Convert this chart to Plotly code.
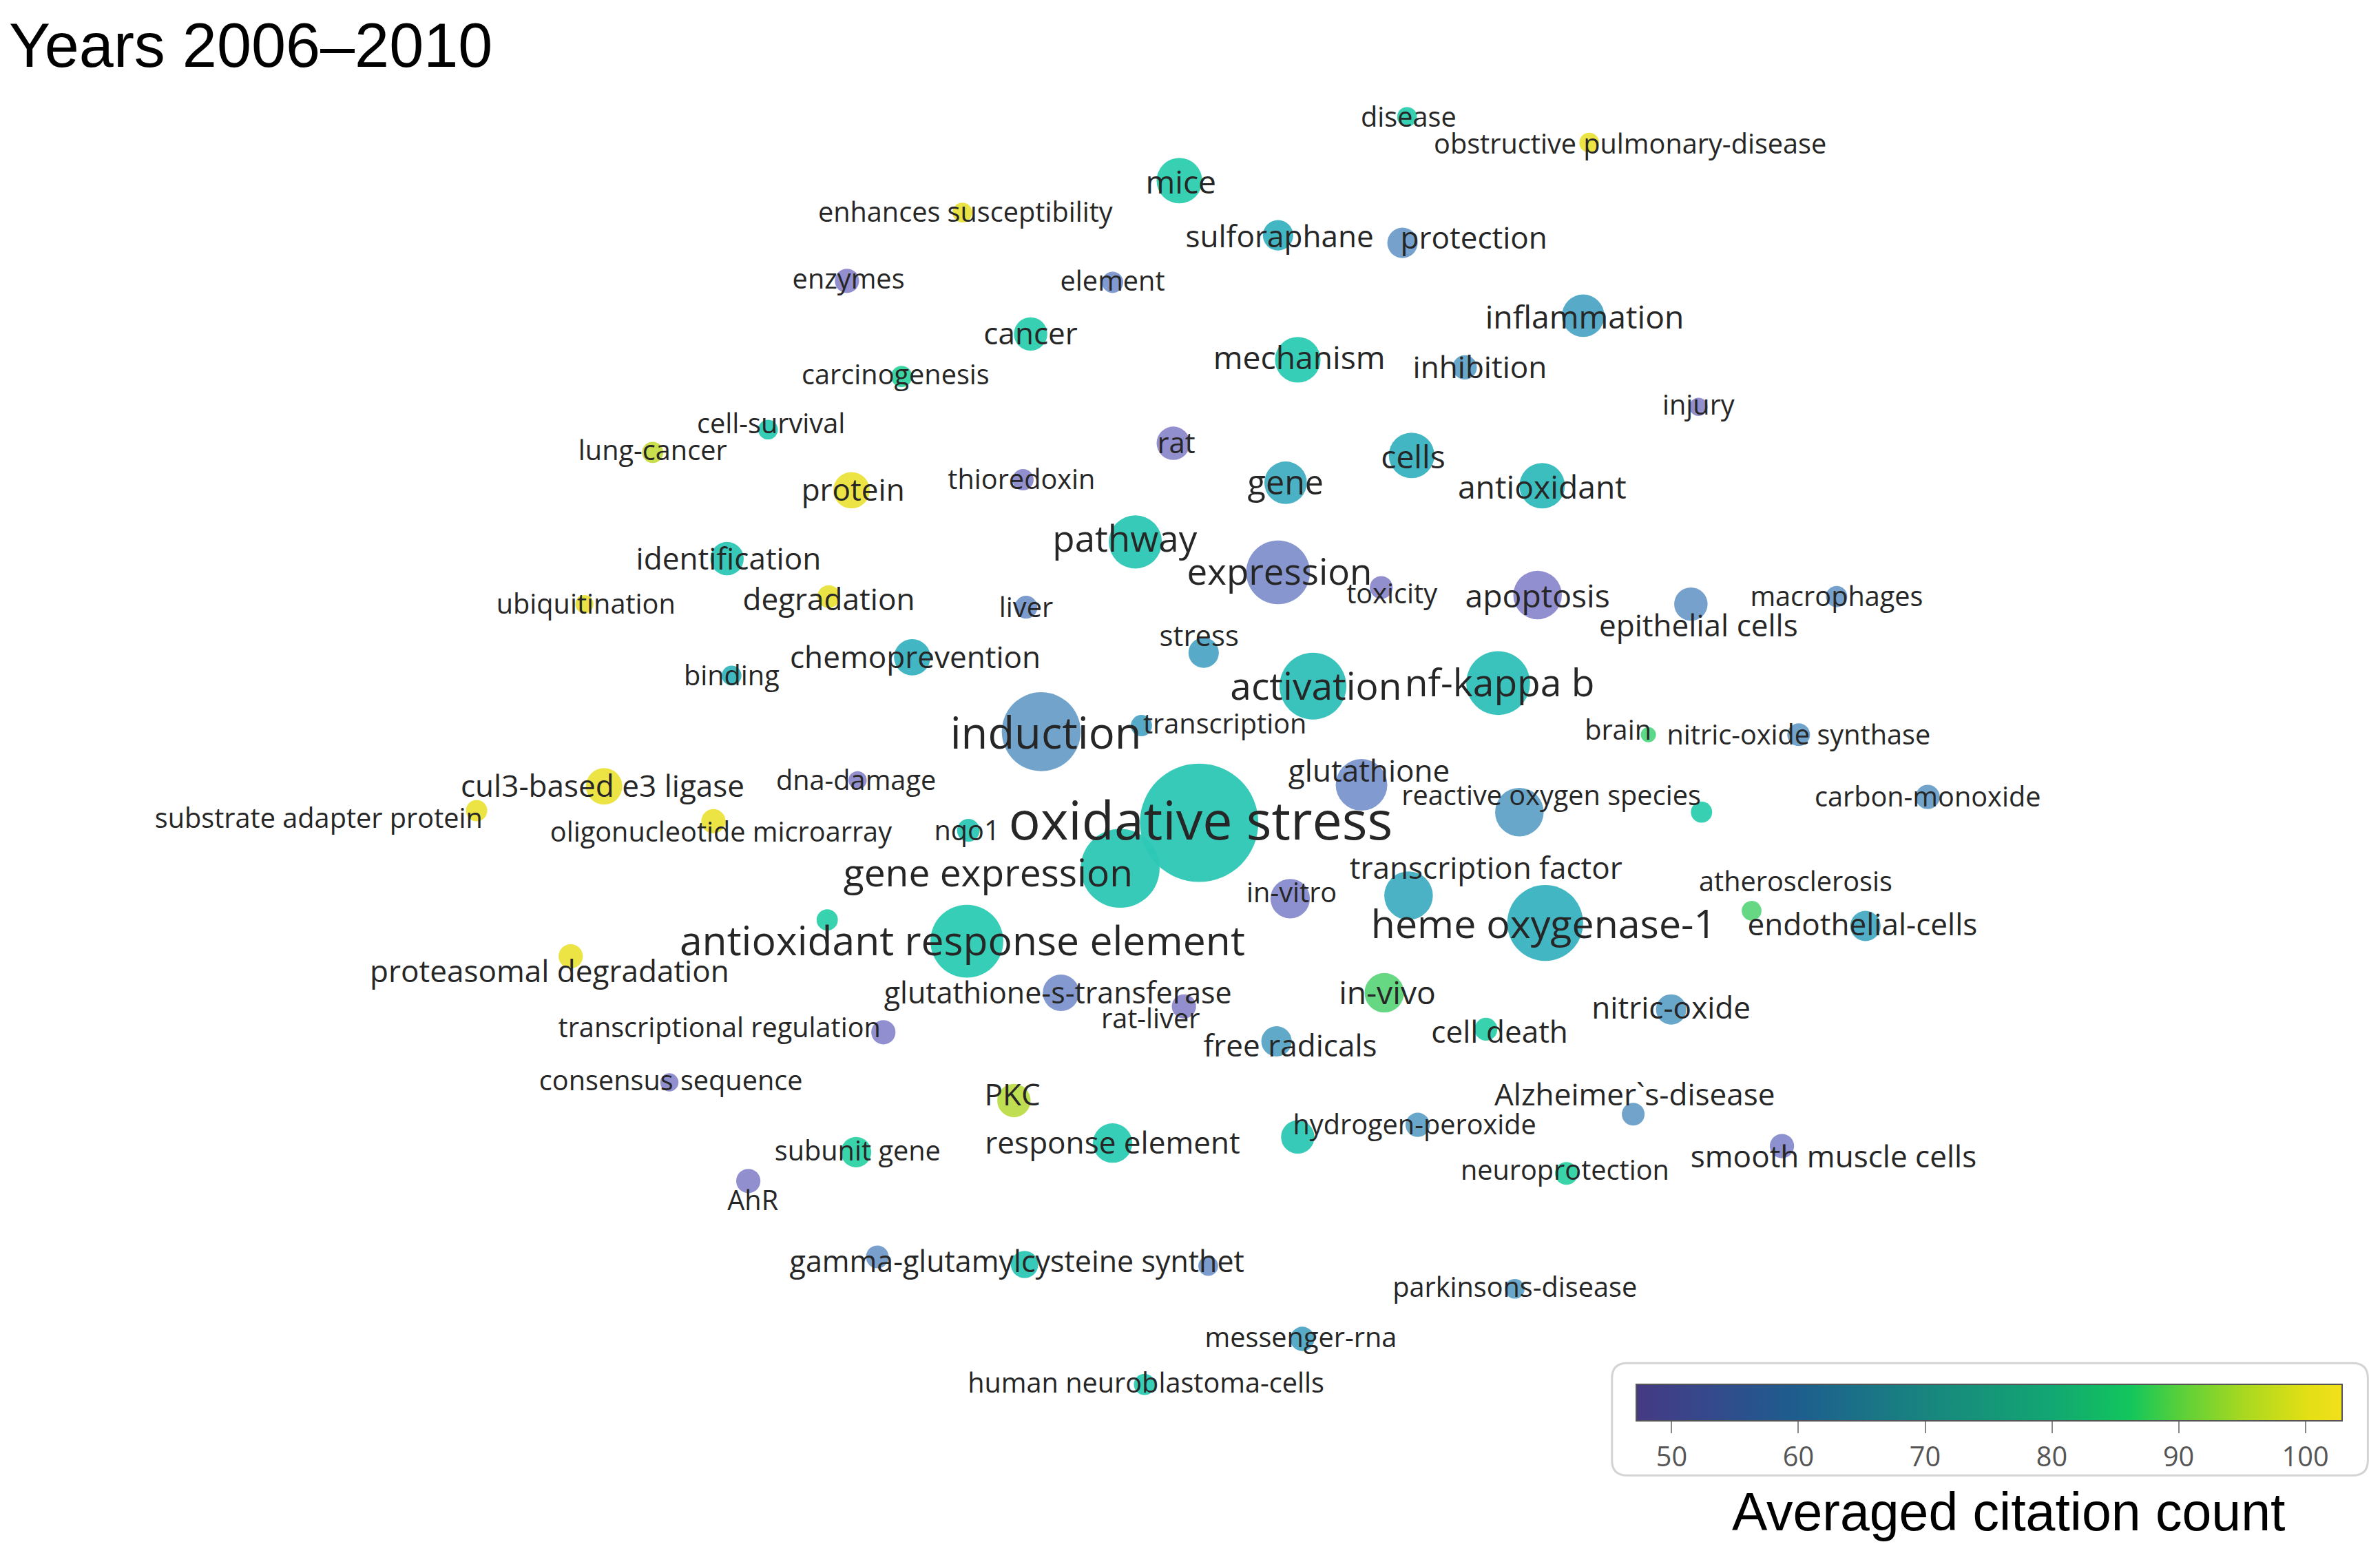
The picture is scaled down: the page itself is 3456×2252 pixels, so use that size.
import plotly.graph_objects as go

# overlay map, keywords 2006-2010 (map units = pixels of the 1568x1022 layout)
keywords = [
    "disease", "obstructive pulmonary-disease", "mice", "enhances susceptibility",
    "sulforaphane", "protection", "enzymes", "element", "inflammation", "cancer",
    "mechanism", "inhibition", "carcinogenesis", "injury", "cell-survival",
    "lung-cancer", "rat", "cells", "gene", "antioxidant", "protein", "thioredoxin",
    "pathway", "identification", "expression", "toxicity", "apoptosis",
    "ubiquitination", "degradation", "liver", "epithelial cells", "macrophages",
    "stress", "chemoprevention", "binding", "activation", "nf-kappa b", "induction",
    "transcription", "brain", "nitric-oxide synthase", "glutathione",
    "reactive oxygen species", "", "carbon-monoxide", "cul3-based e3 ligase",
    "dna-damage", "substrate adapter protein", "oligonucleotide microarray", "nqo1",
    "gene expression", "oxidative stress", "in-vitro", "transcription factor",
    "atherosclerosis", "endothelial-cells", "heme oxygenase-1",
    "antioxidant response element", "", "proteasomal degradation",
    "glutathione-s-transferase", "rat-liver", "in-vivo", "nitric-oxide", "cell death",
    "free radicals", "transcriptional regulation", "consensus sequence", "PKC",
    "Alzheimer`s-disease", "hydrogen-peroxide", "", "response element", "subunit gene",
    "smooth muscle cells", "neuroprotection", "AhR", "gamma-glutamylcysteine synthet",
    "", "", "parkinsons-disease", "messenger-rna", "human neuroblastoma-cells",
]
node_x = [
    927, 1047, 777, 634, 842, 924, 558, 733, 1043, 679,
    855, 965, 594, 1119, 506, 430, 773, 930, 847, 1016, 561, 674,
    748, 479, 842, 910, 1013, 385, 546, 676, 1114, 1210,
    793, 601, 482, 865, 987, 686, 752, 1086, 1185, 897,
    1001, 1121, 1270, 398, 565, 314, 470, 638,
    738, 790, 850, 928, 1154, 1229, 1018,
    637, 545, 376, 699, 780, 912, 1101, 979,
    841, 582, 441, 668, 1076, 855, 934, 733, 564,
    1174, 1032, 493, 675, 578, 796, 998, 858, 754,
]
node_y = [
    77, 94, 119, 140, 155, 160, 185, 186, 208, 220,
    237, 242, 248, 268, 283, 298, 292, 300, 318, 320, 323, 316,
    357, 368, 377, 387, 392, 398, 393, 400, 398, 393,
    430, 433, 445, 452, 450, 482, 478, 484, 484, 517,
    535, 535, 525, 518, 514, 534, 541, 547,
    572, 542, 592, 590, 600, 610, 608,
    620, 606, 630, 654, 663, 654, 665, 678,
    686, 680, 713, 725, 734, 749, 741, 753, 759,
    755, 773, 778, 833, 828, 834, 849, 882, 912,
]
node_weight = [
    13, 13, 30, 13, 20, 20, 16, 14, 28, 22,
    30, 16, 14, 12, 13, 14, 22, 30, 28, 30, 24, 14,
    35, 22, 42, 15, 32, 12, 15, 15, 22, 14,
    20, 24, 13, 44, 42, 52, 14, 10, 15, 34,
    32, 14, 16, 24, 12, 14, 16, 15,
    52, 78, 26, 32, 13, 20, 50,
    48, 14, 16, 24, 16, 26, 20, 15,
    20, 16, 12, 22, 15, 22, 16, 26, 20,
    16, 15, 16, 18, 15, 13, 13, 16, 14,
]
avg_citations = [
    74, 100, 74, 99, 67, 60, 50, 57, 64, 74,
    73, 62, 77, 51, 73, 93, 51, 67, 66, 69, 100, 51,
    72, 72, 55, 51, 52, 99, 99, 58, 60, 60,
    64, 67, 68, 70, 70, 61, 64, 82, 61, 57,
    62, 74, 61, 100, 50, 100, 100, 72,
    72, 72, 53, 66, 83, 65, 67,
    73, 75, 100, 56, 51, 83, 62, 75,
    63, 52, 51, 92, 61, 72, 62, 73, 76,
    53, 76, 51, 72, 59, 58, 62, 64, 73,
]

# label placement (centre of text) and label size
label_x = [
    928, 1074, 778, 636, 843, 971, 559, 733, 1044, 679,
    856, 975, 590, 1119, 508, 430, 775, 931, 847, 1016, 562, 673,
    741, 480, 843, 917, 1013, 386, 546, 676, 1119, 1210,
    790, 603, 482, 867, 988, 689, 807, 1066, 1185, 902,
    1022, 0, 1270, 397, 564, 210, 475, 637,
    651, 791, 851, 979, 1183, 1227, 1017,
    634, 0, 362, 697, 758, 914, 1101, 988,
    850, 474, 442, 667, 1077, 932, 0, 733, 565,
    1208, 1031, 496, 670, 0, 0, 998, 857, 755,
]
label_y = [
    77, 95, 120, 140, 156, 157, 184, 185, 209, 220,
    236, 242, 247, 267, 279, 297, 292, 301, 318, 321, 323, 316,
    355, 368, 377, 391, 393, 398, 395, 400, 412, 393,
    419, 433, 445, 452, 450, 483, 477, 481, 484, 508,
    524, 0, 525, 518, 514, 539, 548, 547,
    575, 541, 588, 572, 581, 609, 609,
    620, 0, 640, 654, 671, 654, 664, 680,
    689, 677, 712, 721, 721, 741, 0, 753, 758,
    762, 771, 791, 831, 0, 0, 848, 881, 911,
]
label_size = [
    18, 18, 21, 18, 20, 20, 18, 18, 21, 20,
    21, 20, 18, 18, 18, 18, 19, 21, 22, 21, 20, 18,
    24, 20, 24, 18, 21, 18, 20, 18, 20, 18,
    19, 20, 18, 25, 25, 28.7, 18, 18, 18, 20,
    18, 18, 18, 20, 18, 18, 18, 18,
    25, 35, 18, 20, 18, 20, 26,
    26.7, 18, 20, 19.5, 18, 21, 20, 20,
    20, 18, 18, 20, 20, 18, 18, 20, 18,
    20, 18, 18, 19.5, 18, 18, 18, 18, 18,
]

colorbar_ticks = [50, 60, 70, 80, 90, 100]
c_min, c_max = 47.2, 102.9

W, H = 3456, 2252
S = W / 1568          # layout px -> output px
PAGE = 8              # default body margin of the html page
off = PAGE / S

node_scale = [
    [0.0, "#8f89cc"], [0.086, "#8b89cc"], [0.176, "#7a95cc"], [0.248, "#6a9fc8"],
    [0.302, "#4fa7c5"], [0.355, "#38b2bf"], [0.409, "#2fbfb8"], [0.463, "#2ccbb3"],
    [0.517, "#2fd2a5"], [0.589, "#3fd58e"], [0.661, "#68d777"], [0.733, "#98d95a"],
    [0.822, "#c6dd44"], [0.894, "#e2e03c"], [1.0, "#f3e23a"],
]
bar_scale = [
    [0.0, "#453a84"], [0.1, "#35488b"], [0.23, "#1d5e8e"], [0.41, "#18857f"],
    [0.59, "#12a772"], [0.70, "#12c65c"], [0.77, "#58d03a"], [0.86, "#a8d820"],
    [0.95, "#e2df14"], [1.0, "#f2e01c"],
]

fig = go.Figure()

# bubbles
fig.add_trace(go.Scatter(
    x=node_x, y=node_y, mode="markers",
    marker=dict(
        size=node_weight, sizemode="diameter", sizeref=1 / S,
        color=avg_citations, colorscale=node_scale, cmin=c_min, cmax=c_max,
        opacity=0.95, line=dict(width=0), showscale=False,
    ),
    hovertext=keywords, hoverinfo="text",
))

# labels (plotly sets "middle" text a little high, nudge down by 10% of size)
lab = [i for i, k in enumerate(keywords) if k]
fig.add_trace(go.Scatter(
    x=[label_x[i] for i in lab],
    y=[label_y[i] + 0.1 * label_size[i] for i in lab],
    mode="text", text=[keywords[i] for i in lab],
    textposition="middle center",
    textfont=dict(family="Open Sans", color="#262626",
                  size=[label_size[i] * S for i in lab]),
    hoverinfo="skip",
))

# colour legend (same citation scale)
bar_x0, bar_x1, bar_y0, bar_y1 = 1078, 1543, 912, 936
fig.add_trace(go.Scatter(
    x=[node_x[0]], y=[node_y[0]], mode="markers", hoverinfo="skip",
    marker=dict(
        size=1, opacity=0, color=[avg_citations[0]],
        colorscale=bar_scale, cmin=c_min, cmax=c_max, showscale=True,
        colorbar=dict(
            orientation="h", lenmode="pixels", len=(bar_x1 - bar_x0) * S,
            thickness=(bar_y1 - bar_y0) * S,
            x=((bar_x0 + bar_x1) / 2 * S - PAGE) / W, xanchor="center",
            y=1 - (bar_y0 * S - PAGE) / H, yanchor="top", xpad=0, ypad=0,
            tickvals=colorbar_ticks, ticks="outside", ticklen=8 * S,
            tickcolor="#888888", tickwidth=2,
            tickfont=dict(family="Open Sans", size=18 * S, color="#555555"),
            outlinecolor="#555555", outlinewidth=2,
        ),
    ),
))

# rounded box behind the colour legend
x0, x1, y0, y1, r = 1062, 1560, 898, 972, 10
box = (f"M {x0 + r},{y0} L {x1 - r},{y0} Q {x1},{y0} {x1},{y0 + r} "
       f"L {x1},{y1 - r} Q {x1},{y1} {x1 - r},{y1} L {x0 + r},{y1} "
       f"Q {x0},{y1} {x0},{y1 - r} L {x0},{y0 + r} Q {x0},{y0} {x0 + r},{y0} Z")
fig.add_shape(type="path", path=box, xref="x", yref="y", layer="below",
              line=dict(color="#d4d4d4", width=3), fillcolor="white")

fig.add_annotation(x=5, y=30, xref="x", yref="y", text="Years 2006–2010",
                   showarrow=False, xanchor="left", yanchor="middle",
                   font=dict(family="Liberation Sans, Arial", size=90, color="black"))
fig.add_annotation(x=1323, y=996, xref="x", yref="y", text="Averaged citation count",
                   showarrow=False, xanchor="center", yanchor="middle",
                   font=dict(family="Liberation Sans, Arial", size=77, color="black"))

fig.update_layout(
    width=W, height=H,
    margin=dict(l=0, r=0, t=0, b=0),
    paper_bgcolor="white", plot_bgcolor="white",
    showlegend=False,
    xaxis=dict(range=[off, W / S + off], visible=False, fixedrange=True),
    yaxis=dict(range=[H / S + off, off], visible=False, fixedrange=True),
)

fig.write_html("out.html")
